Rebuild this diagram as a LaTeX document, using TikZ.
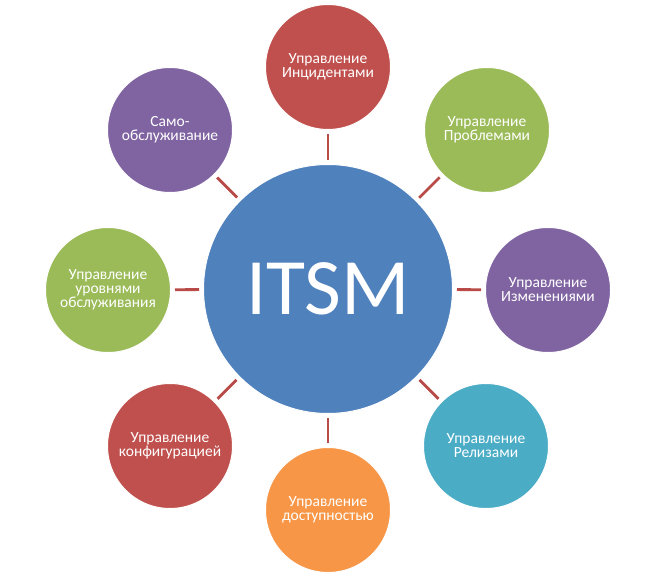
\documentclass[tikz,border=0pt]{standalone}
\usepackage{fontspec}
\setmainfont{Carlito}
\definecolor{cblue}{HTML}{4F81BD}
\definecolor{cred}{HTML}{C0504D}
\definecolor{cgreen}{HTML}{9BBB59}
\definecolor{cpurple}{HTML}{8064A2}
\definecolor{caqua}{HTML}{4BACC6}
\definecolor{corange}{HTML}{F79646}
\definecolor{cline}{HTML}{B84A47}
\begin{document}
\begin{tikzpicture}[x=1pt,y=-1pt,
  hub/.style={circle,fill=cblue,draw=white,line width=1pt,minimum size=249pt,inner sep=0pt,text=white,font=\fontsize{80}{80}\selectfont},
  sat/.style={circle,draw=white,line width=1pt,minimum size=125pt,inner sep=0pt,text=white,align=center,font=\fontsize{15.5}{14}\selectfont},
  spoke/.style={draw=cline,line width=2.8pt,shorten <=4pt,shorten >=4pt}]
\useasboundingbox (0,0) rectangle (656,577);
\fill[white] (0,0) rectangle (656,577);
\node[hub] (c) at (328,289) {ITSM};
\node[sat,fill=cred] (n1) at (328,67) {Управление\\Инцидентами};
\node[sat,fill=cgreen] (n2) at (487,130) {Управление\\Проблемами};
\node[sat,fill=cpurple] (n3) at (548,290) {Управление\\Изменениями};
\node[sat,fill=caqua] (n4) at (486,446) {Управление\\Релизами};
\node[sat,fill=corange] (n5) at (328,510) {Управление\\доступностью};
\node[sat,fill=cred] (n6) at (170,446) {Управление\\конфигурацией};
\node[sat,fill=cgreen] (n7) at (108,290) {Управление\\уровнями\\обслуживания};
\node[sat,fill=cpurple] (n8) at (170,130) {Само-\\обслуживание};
\foreach \n in {n1,n2,n3,n4,n5,n6,n7,n8} \draw[spoke] (c) -- (\n);
\end{tikzpicture}
\end{document}
